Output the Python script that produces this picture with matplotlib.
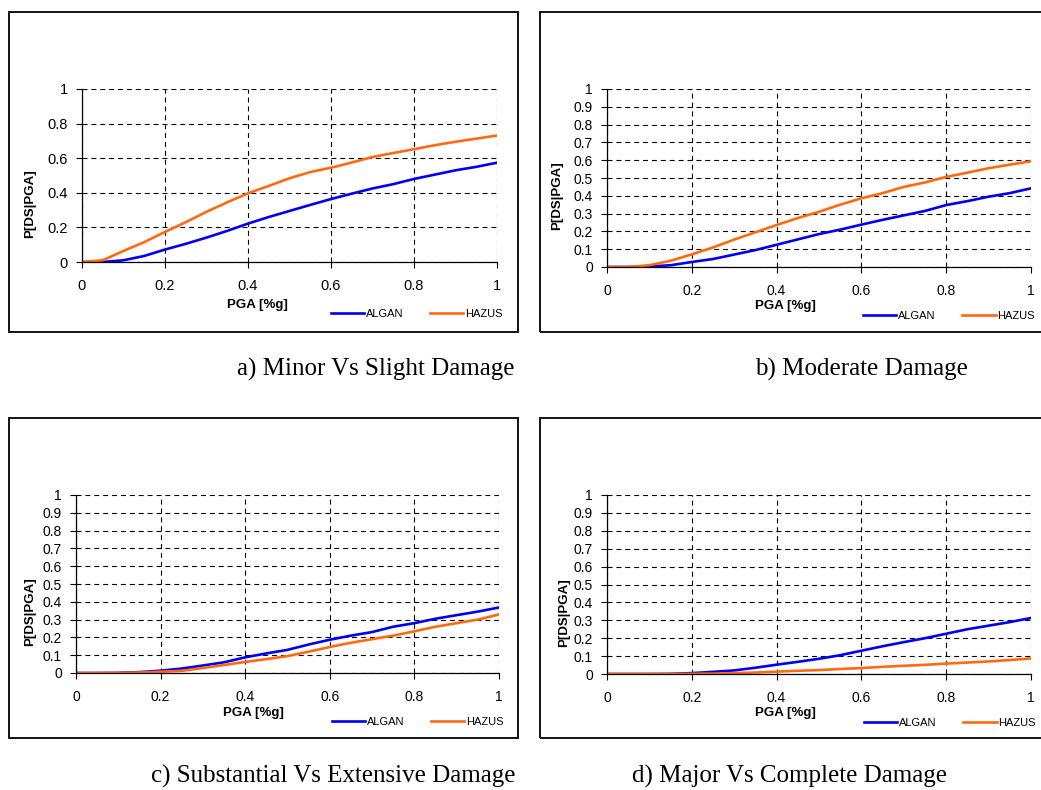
import numpy as np
import matplotlib
matplotlib.use('Agg')
import matplotlib.pyplot as plt
from matplotlib.patches import Rectangle
from matplotlib.ticker import FuncFormatter, MultipleLocator

W, H = 1041, 790

# PGA values (x) shared by all panels
pga = [0.0, 0.05, 0.1, 0.15, 0.2, 0.25, 0.3, 0.35, 0.4, 0.45, 0.5,
       0.55, 0.6, 0.65, 0.7, 0.75, 0.8, 0.85, 0.9, 0.95, 1.0]

# a) Minor Vs Slight Damage
algan_a = [0.0, 0.0, 0.01, 0.035, 0.072, 0.105, 0.141, 0.18, 0.222, 0.26, 0.295,
           0.33, 0.364, 0.395, 0.425, 0.45, 0.48, 0.505, 0.53, 0.55, 0.574]
hazus_a = [0.0, 0.01, 0.064, 0.115, 0.174, 0.23, 0.29, 0.345, 0.397, 0.44, 0.484,
           0.52, 0.545, 0.575, 0.607, 0.63, 0.652, 0.675, 0.695, 0.713, 0.731]

# b) Moderate Damage
algan_b = [0.0, 0.0, 0.003, 0.01, 0.028, 0.045, 0.07, 0.095, 0.125, 0.155, 0.185,
           0.21, 0.238, 0.265, 0.29, 0.315, 0.348, 0.37, 0.395, 0.415, 0.442]
hazus_b = [0.0, 0.0, 0.01, 0.035, 0.071, 0.11, 0.154, 0.195, 0.236, 0.275, 0.31,
           0.35, 0.386, 0.415, 0.45, 0.475, 0.506, 0.53, 0.555, 0.575, 0.594]

# c) Substantial Vs Extensive Damage
algan_c = [0.0, 0.0, 0.001, 0.005, 0.013, 0.025, 0.042, 0.06, 0.088, 0.11, 0.13,
           0.16, 0.187, 0.21, 0.23, 0.26, 0.28, 0.305, 0.325, 0.345, 0.368]
hazus_c = [0.0, 0.0, 0.0, 0.003, 0.007, 0.012, 0.028, 0.045, 0.062, 0.078, 0.095,
           0.12, 0.146, 0.17, 0.19, 0.21, 0.234, 0.26, 0.28, 0.30, 0.329]

# d) Major Vs Complete Damage
algan_d = [0.0, 0.0, 0.0, 0.001, 0.005, 0.012, 0.02, 0.035, 0.052, 0.068, 0.085,
           0.105, 0.13, 0.155, 0.178, 0.2, 0.225, 0.25, 0.27, 0.29, 0.313]
hazus_d = [0.0, 0.0, 0.0, 0.0, 0.001, 0.002, 0.005, 0.008, 0.013, 0.018, 0.022,
           0.028, 0.033, 0.04, 0.046, 0.051, 0.058, 0.064, 0.07, 0.078, 0.087]

captions = ['a) Minor Vs Slight Damage', 'b) Moderate Damage',
            'c) Substantial Vs Extensive Damage', 'd) Major Vs Complete Damage']

col_algan = '#0000f0'
col_hazus = '#ff6a10'

plt.rcParams['font.family'] = ['Liberation Sans', 'DejaVu Sans']

fig = plt.figure(figsize=(W / 100, H / 100), dpi=100)


def fx(x):
    return x / W


def fy(y):
    return 1 - y / H


# panel layout in pixels: box (l, t, r, b), axes (l, t, r, b), y step, tick fontsize,
# ylabel / xlabel / legend / caption positions
panels = [
    dict(box=(9, 12, 518, 332), ax=(82, 89, 497, 262), step=0.2, fs=10.5,
         ylab=(30, 204), xlab=(257, 305), leg=(331, 314), cap=(376, 369),
         algan=algan_a, hazus=hazus_a),
    dict(box=(540, 12, 1045, 332), ax=(607, 89, 1031, 267), step=0.1, fs=10,
         ylab=(557, 196), xlab=(785, 306), leg=(863, 316), cap=(861, 369),
         algan=algan_b, hazus=hazus_b),
    dict(box=(9, 418, 518, 738), ax=(76, 495, 499, 673), step=0.1, fs=10,
         ylab=(30, 612), xlab=(253, 713), leg=(332, 722), cap=(333, 776),
         algan=algan_c, hazus=hazus_c),
    dict(box=(540, 418, 1045, 738), ax=(607, 495, 1031, 674), step=0.1, fs=10,
         ylab=(564, 613), xlab=(785, 713), leg=(864, 723), cap=(790, 776),
         algan=algan_d, hazus=hazus_d),
]

fmt = FuncFormatter(lambda v, p: '%g' % round(v, 2))

for p, cap in zip(panels, captions):
    bl, bt, br, bb = p['box']
    fig.patches.append(Rectangle((fx(bl), fy(bb)), fx(br - bl), (bb - bt) / H,
                                 transform=fig.transFigure, fill=False,
                                 edgecolor='black', linewidth=1.3))
    al, at, ar, ab = p['ax']
    ax = fig.add_axes([fx(al), fy(ab), fx(ar - al), (ab - at) / H])
    ax.plot(pga, p['algan'], color=col_algan, linewidth=1.9, label='ALGAN')
    ax.plot(pga, p['hazus'], color=col_hazus, linewidth=1.9, label='HAZUS')
    ax.set_xlim(0, 1)
    ax.set_ylim(0, 1)
    ax.xaxis.set_major_locator(MultipleLocator(0.2))
    ax.yaxis.set_major_locator(MultipleLocator(p['step']))
    ax.xaxis.set_major_formatter(fmt)
    ax.yaxis.set_major_formatter(fmt)
    ax.grid(True, color='black', linestyle=(0, (4.5, 3.5)), linewidth=0.8)
    ax.set_axisbelow(True)
    for s in ['top', 'right']:
        ax.spines[s].set_visible(False)
    for s in ['left', 'bottom']:
        ax.spines[s].set_linewidth(0.9)
    ax.tick_params(axis='both', direction='out', length=4, width=0.8,
                   labelsize=p['fs'], color='black')
    ax.tick_params(axis='y', pad=6)
    ax.tick_params(axis='x', pad=8)

    fig.text(fx(p['ylab'][0]), fy(p['ylab'][1]), 'P[DS|PGA]', rotation=90,
             fontsize=9.5, fontweight='bold', ha='center', va='center')
    fig.text(fx(p['xlab'][0]), fy(p['xlab'][1]), 'PGA [%g]',
             fontsize=9.5, fontweight='bold', ha='center', va='center')
    ax.legend(loc='center left', bbox_to_anchor=(fx(p['leg'][0]), fy(p['leg'][1])),
              bbox_transform=fig.transFigure, ncol=2, frameon=False, fontsize=8,
              handlelength=3.0, handletextpad=0.15, columnspacing=2.4,
              borderpad=0, borderaxespad=0)
    fig.text(fx(p['cap'][0]), fy(p['cap'][1]), cap, fontsize=18,
             family='Liberation Serif', ha='center', va='center')

fig.savefig('out.png', dpi=100)
